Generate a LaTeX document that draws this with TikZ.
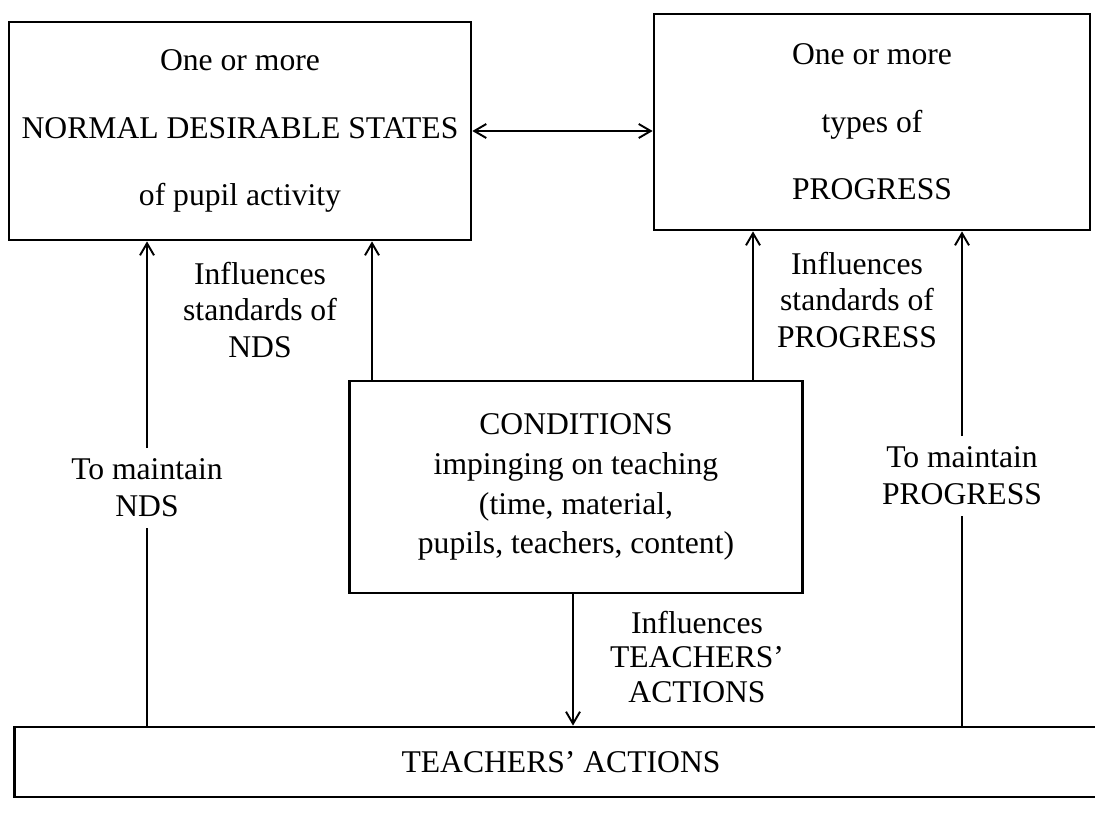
\documentclass[tikz,border=0pt]{standalone}
\usepackage{fontspec}
\setmainfont{Liberation Serif}
\usetikzlibrary{arrows.meta, positioning}

\begin{document}
\begin{tikzpicture}[x=0.02cm, y=-0.02cm,
    statebox/.style={draw, line width=1.6pt, inner sep=0pt, align=center,
                font=\fontsize{18}{38.5}\selectfont},
    condbox/.style={draw, line width=1.6pt, inner sep=0pt, align=center,
                font=\fontsize{18}{22.7}\selectfont},
    lbl/.style={align=center, inner sep=2pt, font=\fontsize{18}{21}\selectfont},
    arr/.style={line width=1.1pt, -{Straight Barb[length=2.4mm, width=2.8mm]}},
    dblarr/.style={line width=1.1pt, {Straight Barb[length=2.4mm, width=2.8mm]}-{Straight Barb[length=2.4mm, width=2.8mm]}}
]
    \useasboundingbox (0,0) rectangle (1095,816);
    \clip (0,0) rectangle (1095,816);

    % Top boxes
    \node[statebox, minimum width=9.24cm, minimum height=4.36cm] (nds) at (240,131) {One or more\\NORMAL DESIRABLE STATES\\of pupil activity};
    \node[statebox, minimum width=8.72cm, minimum height=4.32cm] (prog) at (872,122) {One or more\\types of\\PROGRESS};

    % Conditions and actions
    \node[condbox, minimum width=9.06cm, minimum height=4.24cm] (cond) at (576,487) {CONDITIONS\\impinging on teaching\\(time, material,\\pupils, teachers, content)};
    \node[statebox, minimum width=21.88cm, minimum height=1.4cm] (teach) at (561,762) {TEACHERS' ACTIONS};

    % Labels
    \node[lbl] (infnds) at (260,310) {Influences\\standards of\\NDS};
    \node[lbl] (infprog) at (857,300) {Influences\\standards of\\PROGRESS};
    \node[lbl, font=\fontsize{18}{19.5}\selectfont] (infteach) at (697,657) {Influences\\TEACHERS'\\ACTIONS};
    \node[lbl, inner ysep=6pt] (mnds) at (147,488) {To maintain\\NDS};
    \node[lbl, inner ysep=6pt] (mprog) at (962,476) {To maintain\\PROGRESS};

    % Arrow positions
    \coordinate (xnds) at (372,0);
    \coordinate (xprog) at (753,0);
    \coordinate (xteach) at (573,0);

    % Arrows
    \draw[dblarr] (nds.east) -- (nds.east -| prog.west);
    \draw[line width=1.1pt] (teach.north -| mnds) -- (mnds);
    \draw[arr] (mnds) -- (nds.south -| mnds);
    \draw[arr] (cond.north -| xnds) -- (nds.south -| xnds);
    \draw[arr] (cond.north -| xprog) -- (prog.south -| xprog);
    \draw[line width=1.1pt] (teach.north -| mprog) -- (mprog);
    \draw[arr] (mprog) -- (prog.south -| mprog);
    \draw[arr] (cond.south -| xteach) -- (teach.north -| xteach);
\end{tikzpicture}
\end{document}
